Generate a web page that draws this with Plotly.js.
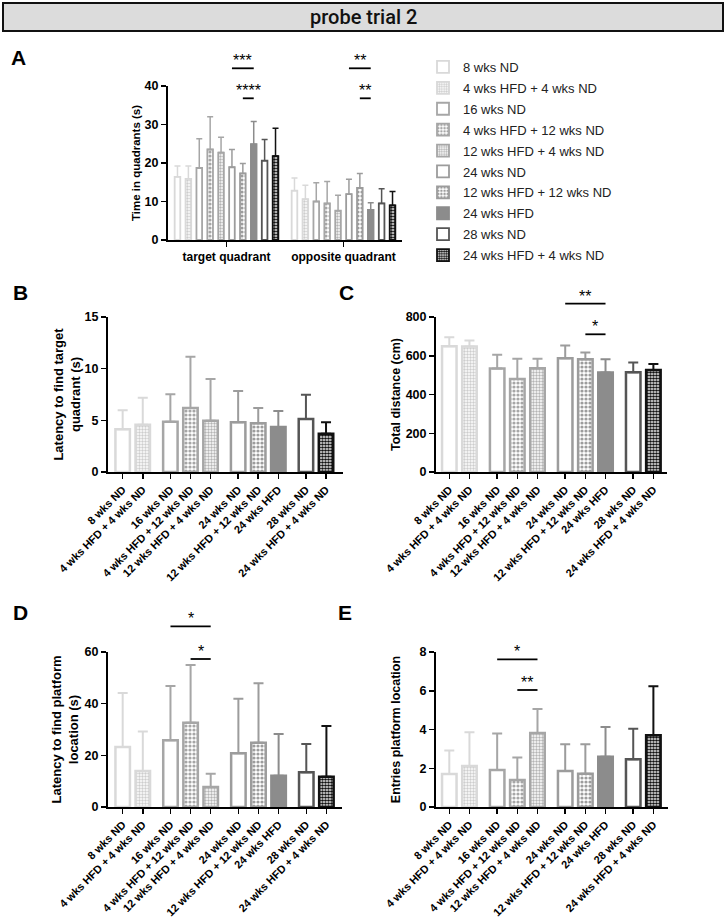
<!DOCTYPE html>
<html><head><meta charset="utf-8">
<script src="https://cdn.plot.ly/plotly-3.0.1.min.js"></script>
<style>html,body{margin:0;padding:0;background:#fff}#chart{width:726px;height:919px}</style>
</head><body><div id="chart"></div>
<script>
// ---------------- DATA ----------------
const groups = ['8 wks ND','4 wks HFD + 4 wks ND','16 wks ND','4 wks HFD + 12 wks ND','12 wks HFD + 4 wks ND','24 wks ND','12 wks HFD + 12 wks ND','24 wks HFD','28 wks ND','24 wks HFD + 4 wks ND'];
const groupSizes = [2,3,3,2];
const quadrants = ['target quadrant','opposite quadrant'];

// A: time in quadrants (s)
const timeTargetMean   = [16.4,15.9,18.7,23.5,22.7,18.9,17.3,24.9,20.6,21.8];
const timeTargetErr    = [2.8,3.3,7.6,8.5,4.0,4.6,2.6,5.9,5.5,7.2];
const timeOppositeMean = [12.8,10.6,10.0,9.5,7.6,11.9,13.5,7.8,9.5,9.0];
const timeOppositeErr  = [3.3,3.6,4.9,5.7,4.0,3.9,3.8,1.9,3.8,3.6];
// B: latency to find target quadrant (s)
const latQuadMean = [4.13,4.58,4.87,6.19,4.97,4.81,4.71,4.35,5.13,3.71];
const latQuadErr  = [1.84,2.61,2.65,4.97,4.03,3.03,1.48,1.55,2.35,1.10];
// C: total distance (cm)
const distMean = [649,648,534,480,535,587,582,513,515,527];
const distErr  = [47,31,71,104,49,66,35,69,50,31];
// D: latency to find platform location (s)
const latPlatMean = [23.2,13.9,25.8,32.6,7.7,20.8,24.9,12.1,13.5,11.7];
const latPlatErr  = [20.9,15.3,21.0,22.4,5.2,21.1,23.0,16.2,10.9,19.7];
// E: entries platform location
const entriesMean = [1.70,2.12,1.91,1.39,3.82,1.86,1.72,2.60,2.46,3.70];
const entriesErr  = [1.21,1.74,1.89,1.17,1.24,1.38,1.52,1.53,1.58,2.53];

// significance comparisons: [category, fromGroup, toGroup, label, tier]
const sigA = [[0,5,7,'***',0],[0,6,7,'****',1],[1,5,7,'**',0],[1,6,7,'**',1]];
const sigC = [[null,5,7,'**',0],[null,6,7,'*',1]];
const sigD = [[null,2,4,'*',0],[null,3,4,'*',1]];
const sigE = [[null,2,4,'*',0],[null,3,4,'**',1]];

// ---------------- STYLE / LAYOUT ----------------
const W = 726, H = 919;
const px2x = p => p / W;
const px2y = p => 1 - p / H;
const FONT = 'Liberation Sans, Arial, Helvetica, sans-serif';

const styles = [
  {line:'#d9d9d9', fill:'#ffffff'},
  {line:'#d9d9d9', shape:'.', fg:'#cdcdcd', size:3, sol:0.5},
  {line:'#a6a6a6', fill:'#ffffff'},
  {line:'#a6a6a6', shape:'.', fg:'#a6a6a6', size:4, sol:0.5},
  {line:'#a6a6a6', shape:'.', fg:'#b4b4b4', size:3, sol:0.5},
  {line:'#9c9c9c', fill:'#ffffff'},
  {line:'#9c9c9c', shape:'.', fg:'#9c9c9c', size:4, sol:0.5},
  {line:'#8c8c8c', fill:'#8c8c8c'},
  {line:'#555555', fill:'#ffffff'},
  {line:'#111111', shape:'.', fg:'#111111', size:3, sol:0.62}
];

// bar positions for B-E (groups separated by a gap)
const groupGap = 0.375;
const pos = [];
(function(){ let p = 0; groupSizes.forEach((n) => { for (let k = 0; k < n; k++) { pos.push(p); p += 1; } p += groupGap; }); })();

const panels = [
  {id:'A', ax:'', box:{x:[168,402], y:[86,240]}, yr:[0,40], dtick:10, title:'Time in quadrants (s)', tsize:11.5, stand:2, sig:sigA, tiers:[68.3,98.3], letter:[18,58]},
  {id:'B', ax:'2', box:{x:[108,343], y:[317,472]}, yr:[0,15], dtick:5, xr:[-0.73,10.97], title:'Latency to find target<br>quadrant (s)', tsize:13, stand:1, mean:latQuadMean, err:latQuadErr, sig:[], tiers:[], letter:[20,292]},
  {id:'C', ax:'3', box:{x:[436,667], y:[317,472]}, yr:[0,800], dtick:200, xr:[-0.66,10.8], title:'Total distance (cm)', tsize:12.5, stand:2, mean:distMean, err:distErr, sig:sigC, tiers:[303.7,334.3], letter:[346,292]},
  {id:'D', ax:'4', box:{x:[108,342], y:[652,807]}, yr:[0,60], dtick:20, xr:[-0.73,10.9], title:'Latency to find platform<br>location (s)', tsize:13, stand:3, mean:latPlatMean, err:latPlatErr, sig:sigD, tiers:[626.3,659], letter:[20,612]},
  {id:'E', ax:'5', box:{x:[436,668], y:[652,807]}, yr:[0,8], dtick:2, xr:[-0.66,10.85], title:'Entries platform location', tsize:12.5, stand:16, mean:entriesMean, err:entriesErr, sig:sigE, tiers:[659.3,690], letter:[345,612]}
];

function markerFor(i, lw) {
  const st = styles[i];
  const m = {color: st.fill || '#ffffff', line:{color: st.line, width: lw}};
  if (st.shape) m.pattern = {shape: st.shape, fgcolor: st.fg, bgcolor: '#ffffff', size: st.size, solidity: st.sol, fillmode:'replace'};
  return m;
}

const traces = [];
const slotA = 0.0931;
// Panel A: grouped by quadrant
groups.forEach((g, i) => {
  traces.push({
    type:'bar', name:g, legendgroup:'g'+i, showlegend:true,
    x: quadrants.map((q, c) => c + (i - 4.5) * slotA),
    y: [timeTargetMean[i], timeOppositeMean[i]],
    width: 0.048,
    marker: markerFor(i, 1.8),
    error_y:{type:'data', symmetric:false, array:[timeTargetErr[i], timeOppositeErr[i]], arrayminus:[0,0], color:styles[i].line, thickness:1.5, width:3},
    xaxis:'x', yaxis:'y', hoverinfo:'skip'
  });
});
// Panels B-E: one bar per group
panels.slice(1).forEach(p => {
  groups.forEach((g, i) => {
    traces.push({
      type:'bar', name:g, legendgroup:'g'+i, showlegend:false,
      x:[pos[i]], y:[p.mean[i]], width:0.72,
      marker: markerFor(i, 2.5),
      error_y:{type:'data', symmetric:false, array:[p.err[i]], arrayminus:[0], color:styles[i].line, thickness:2, width:5},
      xaxis:'x'+p.ax, yaxis:'y'+p.ax, hoverinfo:'skip'
    });
  });
});

const layout = {
  width:W, height:H, margin:{l:0,r:0,t:0,b:0},
  paper_bgcolor:'#ffffff', plot_bgcolor:'rgba(0,0,0,0)',
  barmode:'overlay', font:{family:FONT, color:'#000'},
  showlegend:true,
  legend:{x:px2x(423), y:px2y(52), xanchor:'left', yanchor:'top', font:{family:FONT, size:13, color:'#222'}, tracegroupgap:1, bgcolor:'rgba(0,0,0,0)'},
  shapes:[{type:'rect', xref:'paper', yref:'paper', x0:px2x(3), x1:px2x(723), y0:px2y(31), y1:px2y(3), fillcolor:'#dcdcdc', line:{color:'#111', width:2}, layer:'below'}],
  annotations:[{xref:'paper', yref:'paper', x:0.5, y:px2y(17), text:'probe trial 2', showarrow:false, font:{family:'Roboto, '+FONT, size:20, weight:500, color:'#111'}, xanchor:'center', yanchor:'middle'}]
};

const axisCommon = {showline:true, linewidth:2, linecolor:'#000', ticks:'outside', ticklen:5, tickwidth:1.5, tickcolor:'#000', showgrid:false, zeroline:false, fixedrange:true};

panels.forEach(p => {
  const xk = 'xaxis' + p.ax, yk = 'yaxis' + p.ax;
  const xa = Object.assign({}, axisCommon, {domain:[px2x(p.box.x[0]), px2x(p.box.x[1])], anchor:'y'+p.ax});
  if (p.id === 'A') {
    Object.assign(xa, {range:[-0.5,1.5], tickvals:[0,1], ticktext:quadrants, tickangle:0, tickfont:{family:FONT, size:12, weight:'bold', color:'#000'}});
  } else {
    Object.assign(xa, {range:p.xr, tickvals:pos, ticktext:groups, tickangle:-45, tickfont:{family:FONT, size:11, weight:'bold', color:'#000'}});
  }
  layout[xk] = xa;
  layout[yk] = Object.assign({}, axisCommon, {
    domain:[px2y(p.box.y[1]), px2y(p.box.y[0])], anchor:'x'+p.ax, range:p.yr, dtick:p.dtick, tick0:0,
    tickfont:{family:FONT, size:12.5, weight:'bold', color:'#000'},
    title:{text:p.title, font:{family:FONT, size:p.tsize, weight:'bold', color:'#000'}, standoff:p.stand}
  });
  // panel letter
  layout.annotations.push({xref:'paper', yref:'paper', x:px2x(p.letter[0]), y:px2y(p.letter[1]), text:'<b>'+p.id+'</b>', showarrow:false, font:{family:FONT, size:21, color:'#000'}, xanchor:'center', yanchor:'middle'});
  // significance bars
  p.sig.forEach(s => {
    const [cat, a, b, lab, tier] = s;
    let xa0, xb0;
    if (p.id === 'A') { xa0 = cat + (a - 4.5) * slotA; xb0 = cat + (b - 4.5) * slotA; }
    else { xa0 = pos[a]; xb0 = pos[b]; }
    const yy = px2y(p.tiers[tier]);
    layout.shapes.push({type:'line', xref:'x'+p.ax, yref:'paper', x0:xa0, x1:xb0, y0:yy, y1:yy, line:{color:'#000', width:1.8}});
    layout.annotations.push({xref:'x'+p.ax, yref:'paper', x:(xa0+xb0)/2, y:yy, text:lab, showarrow:false, font:{family:FONT, size:16, color:'#000'}, xanchor:'center', yanchor:'bottom', yshift:-3});
  });
});

Plotly.newPlot('chart', traces, layout, {staticPlot:true, displayModeBar:false});
</script>
</body></html>
